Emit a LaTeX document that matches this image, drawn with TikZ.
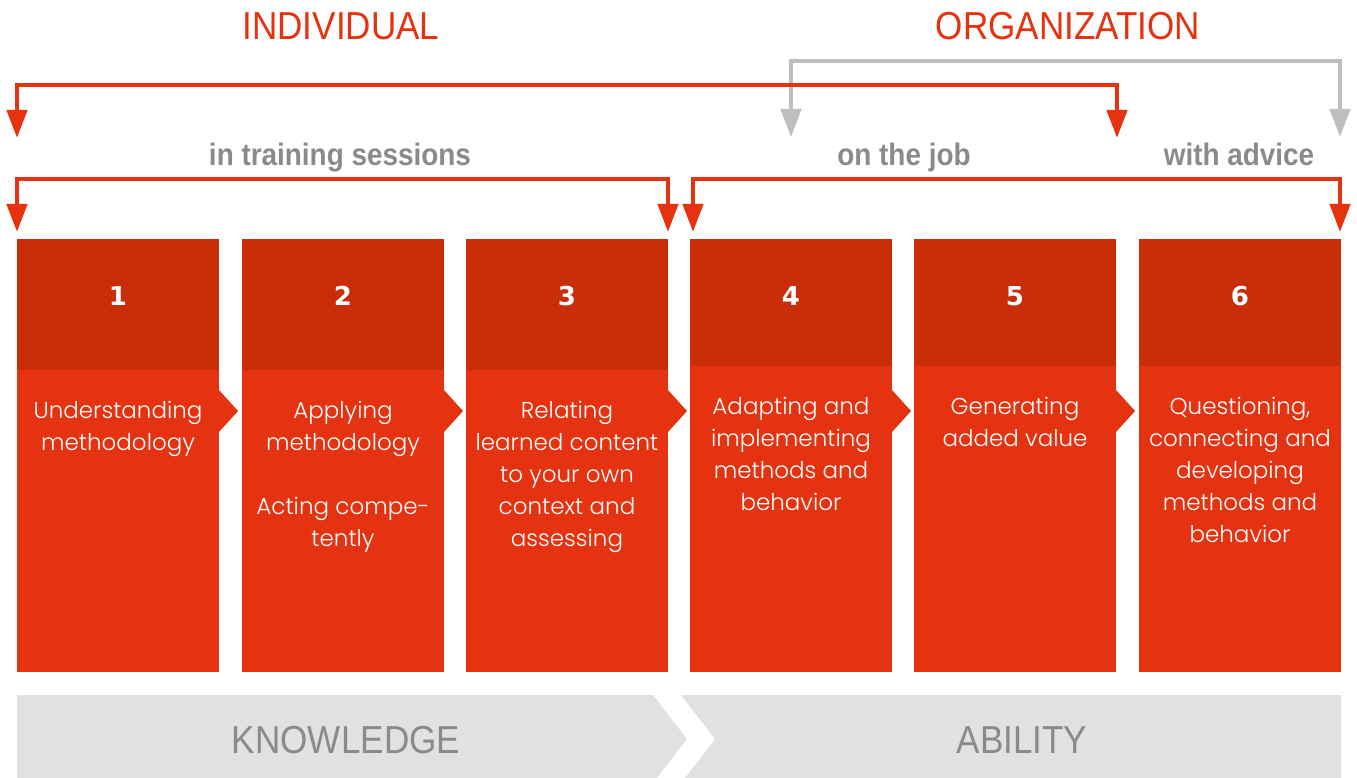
\documentclass[tikz,border=0pt]{standalone}
\usepackage{fontspec}
\setmainfont{Liberation Sans}
\newfontfamily\headfont{Liberation Sans}[FakeStretch=0.9]
\newfontfamily\numfont{DejaVu Sans}
\newfontfamily\boxfont{Poppins Light}
\usetikzlibrary{arrows.meta}
\definecolor{bodyred}{RGB}{229,50,16}
\definecolor{headred}{RGB}{201,45,10}
\definecolor{arrowred}{RGB}{229,51,16}
\definecolor{arrowgray}{RGB}{189,190,192}
\definecolor{textgray}{RGB}{138,138,138}
\definecolor{bandgray}{RGB}{225,225,225}
\tikzset{
  boxbody/.style={fill=bodyred, inner sep=0pt, outer sep=0pt, minimum width=202pt, minimum height=433pt, anchor=north west},
  boxhead/.style={fill=headred, inner sep=0pt, outer sep=0pt, minimum width=202pt, anchor=north west},
  numlabel/.style={text=white, anchor=base, inner sep=0pt, font={\numfont\bfseries\fontsize{26}{30}\selectfont}},
  boxtext/.style={text=white, anchor=base, inner sep=0pt, align=center, font={\boxfont\fontsize{23}{32}\selectfont}},
  notch/.style={fill=bodyred},
  bigtitle/.style={text=arrowred, anchor=base, inner sep=0pt, font={\headfont\fontsize{39}{44}\selectfont}},
  subtitle/.style={text=textgray, anchor=base, inner sep=0pt, font={\headfont\bfseries\fontsize{31}{36}\selectfont}},
  bandtext/.style={text=textgray, anchor=base, inner sep=0pt, font={\headfont\fontsize{39}{44}\selectfont}},
  redbracket/.style={draw=arrowred, line width=4.5pt, line join=miter, {Triangle[width=20pt,length=28pt]}-{Triangle[width=20pt,length=28pt]}},
  graybracket/.style={draw=arrowgray, line width=4.5pt, line join=miter, {Triangle[width=20pt,length=28pt]}-{Triangle[width=20pt,length=28pt]}},
}
\begin{document}
\begin{tikzpicture}[x=1pt,y=-1pt]
\useasboundingbox (0,0) rectangle (1357,778);

% boxes
\foreach \i/\x/\h in {1/17/131, 2/242/131, 3/466/131, 4/690/127, 5/914/127, 6/1139/127} {
  \node[boxbody] (body\i) at (\x,239) {};
  \node[boxhead, minimum height=\h pt] (head\i) at (\x,239) {};
  \node[numlabel] (num\i) at (\x+101,305) {\i};
}
\foreach \x in {17,242,466,690,914} {
  \fill[notch] (\x+202,390) -- (\x+221,411) -- (\x+202,432) -- cycle;
}

% box texts (anchored at the baseline of the last line)
\node[boxtext] (t1) at (118,450) {Understanding\\methodology};
\node[boxtext] (t2) at (343,546) {Applying\\methodology\\[32pt]Acting compe-\\tently};
\node[boxtext] (t3) at (567,546) {Relating\\learned content\\to your own\\context and\\assessing};
\node[boxtext] (t4) at (791,510) {Adapting and\\implementing\\methods and\\behavior};
\node[boxtext] (t5) at (1015,446) {Generating\\added value};
\node[boxtext] (t6) at (1240,542) {Questioning,\\connecting and\\developing\\methods and\\behavior};

% titles
\node[bigtitle] (indiv) at (341,40) {INDIVIDUAL};
\node[bigtitle] (organ) at (1068,40) {ORGANIZATION};
\node[subtitle] (train) at (340,166) {in training sessions};
\node[subtitle] (job) at (904,166) {on the job};
\node[subtitle] (advice) at (1239,166) {with advice};

% brackets
\coordinate (g1) at (791,137); \coordinate (g2) at (791,61);
\coordinate (g3) at (1340,61); \coordinate (g4) at (1340,137);
\draw[graybracket] (g1) -- (g2) -- (g3) -- (g4);

\coordinate (r1) at (17,138); \coordinate (r2) at (17,85);
\coordinate (r3) at (1117,85); \coordinate (r4) at (1117,138);
\draw[redbracket] (r1) -- (r2) -- (r3) -- (r4);

\coordinate (s1) at (17,232); \coordinate (s2) at (17,179);
\coordinate (s3) at (668,179); \coordinate (s4) at (668,232);
\draw[redbracket] (s1) -- (s2) -- (s3) -- (s4);

\coordinate (j1) at (693,232); \coordinate (j2) at (693,179);
\coordinate (j3) at (1340,179); \coordinate (j4) at (1340,232);
\draw[redbracket] (j1) -- (j2) -- (j3) -- (j4);

% bottom band
\fill[bandgray] (17,695) -- (653,695) -- (687,739) -- (657,778) -- (17,778) -- cycle;
\fill[bandgray] (681,695) -- (1341,695) -- (1341,778) -- (685,778) -- (715,739) -- cycle;
\node[bandtext] (know) at (346,753) {KNOWLEDGE};
\node[bandtext] (abil) at (1022,753) {ABILITY};
\end{tikzpicture}
\end{document}
